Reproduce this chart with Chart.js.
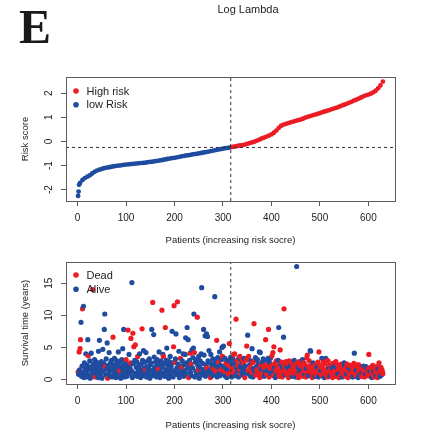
<!DOCTYPE html>
<html>
<head>
<meta charset="utf-8">
<script src="https://cdn.jsdelivr.net/npm/chart.js@4.4.0/dist/chart.umd.min.js"></script>
<style>
  body { margin: 0; background: #fff; width: 433px; height: 431px; position: relative; overflow: hidden; }
  canvas { position: absolute; left: 0; }
  #letter { position: absolute; left: 19px; top: 3px; font: bold 48px "Liberation Serif", "DejaVu Serif", serif; line-height: 48px; color: #1a1a1a; }
  #title { position: absolute; left: 148px; width: 200px; top: 4px; text-align: center; font: 11px "Liberation Sans", Arial, sans-serif; line-height: 11px; color: #222; }
</style>
</head>
<body>
<canvas id="risk" width="433" height="250" style="top:0"></canvas>
<canvas id="surv" width="433" height="181" style="top:250px"></canvas>
<div id="letter">E</div>
<div id="title">Log Lambda</div>
<script>
const RED = '#ec1c24';
const BLUE = '#1f4c9e';

// x axis (patients) shared by both panels
const patientTicks = [0, 100, 200, 300, 400, 500, 600];
const patientRange = [-24, 655];
const cutPatient = 316;

// top panel: risk score, sorted (read every 5th patient)
const riskTicks = [-2, -1, 0, 1, 2];
const riskRange = [-2.47, 2.67];
const cutScore = -0.25;
const riskPatient = [1, 2, 3,
  5, 10, 15, 20, 25, 30, 35, 40, 45, 50,
  55, 60, 65, 70, 75, 80, 85, 90, 95, 100,
  105, 110, 115, 120, 125, 130, 135, 140, 145, 150,
  155, 160, 165, 170, 175, 180, 185, 190, 195, 200,
  205, 210, 215, 220, 225, 230, 235, 240, 245, 250,
  255, 260, 265, 270, 275, 280, 285, 290, 295, 300,
  305, 310, 315, 320, 325, 330, 335, 340, 345, 350,
  355, 360, 365, 370, 375, 380, 385, 390, 395, 400,
  405, 410, 415, 420, 425, 430, 435, 440, 445, 450,
  455, 460, 465, 470, 475, 480, 485, 490, 495, 500,
  505, 510, 515, 520, 525, 530, 535, 540, 545, 550,
  555, 560, 565, 570, 575, 580, 585, 590, 595, 600,
  605, 610, 615, 620, 625, 630];
const riskScore = [-2.26, -2.08, -1.80,
  -1.72, -1.60, -1.52, -1.46, -1.41, -1.33, -1.26, -1.21, -1.17, -1.14,
  -1.11, -1.09, -1.07, -1.05, -1.03, -1.01, -1.00, -0.99, -0.97, -0.96,
  -0.95, -0.94, -0.93, -0.92, -0.91, -0.90, -0.89, -0.88, -0.86, -0.85,
  -0.84, -0.82, -0.81, -0.79, -0.77, -0.75, -0.73, -0.71, -0.69, -0.68,
  -0.66, -0.64, -0.62, -0.60, -0.58, -0.57, -0.55, -0.53, -0.52, -0.50,
  -0.48, -0.46, -0.44, -0.42, -0.40, -0.38, -0.36, -0.34, -0.32, -0.30,
  -0.28, -0.27, -0.25, -0.23, -0.21, -0.19, -0.17, -0.15, -0.13, -0.10,
  -0.07, -0.04, -0.01, 0.03, 0.07, 0.12, 0.16, 0.20, 0.24, 0.29,
  0.36, 0.45, 0.56, 0.65, 0.70, 0.73, 0.76, 0.79, 0.82, 0.85,
  0.88, 0.90, 0.94, 0.99, 1.02, 1.05, 1.08, 1.11, 1.14, 1.17,
  1.21, 1.24, 1.27, 1.30, 1.34, 1.37, 1.40, 1.44, 1.48, 1.52,
  1.56, 1.60, 1.64, 1.69, 1.73, 1.77, 1.82, 1.87, 1.91, 1.94,
  1.98, 2.03, 2.10, 2.20, 2.32, 2.48];

// bottom panel: survival time (years) per patient 1..630, and status (1 = dead)
const survTicks = [0, 5, 10, 15];
const survRange = [-0.7, 18.3];
const survTime = [
  1.2,0.8,4.3,1.5,4.8,6.2,8.9,0.5,2.1,11.0,
  1.1,11.4,0.3,2.6,1.8,0.9,4.0,0.4,1.3,2.2,
  6.2,3.7,0.7,1.6,2.9,0.2,1.9,4.1,0.6,1.2,
  14.0,2.4,0.9,1.5,3.1,0.4,2.0,1.1,2.7,0.8,
  1.7,0.3,4.4,1.0,6.1,2.3,0.6,1.4,2.8,0.2,
  1.9,4.7,1.2,2.5,7.8,10.2,2.0,0.7,3.2,1.6,
  5.7,0.2,2.2,0.9,4.2,1.3,0.5,2.6,1.8,3.0,
  0.4,1.5,6.6,2.1,0.8,3.3,1.0,2.4,0.3,1.7,
  2.9,0.6,1.2,4.3,2.0,0.9,1.4,2.7,0.2,1.9,
  3.1,0.7,4.8,1.3,7.8,2.3,0.4,1.8,2.9,3.1,
  1.1,0.5,2.2,7.7,1.6,3.9,0.9,2.0,2.6,6.4,
  1.4,15.1,0.3,7.2,2.5,5.1,1.0,3.0,5.4,0.7,
  1.9,2.8,0.5,3.6,1.3,2.2,0.8,4.0,1.6,0.3,
  2.4,1.1,7.9,3.0,0.6,4.5,1.8,2.7,0.9,1.5,
  4.2,0.4,2.0,1.2,2.9,0.7,1.7,3.2,0.2,2.3,
  1.0,2.6,7.8,1.4,12.0,0.6,7.0,3.5,1.9,0.9,
  2.7,1.3,0.4,3.1,2.1,0.8,1.6,4.3,2.4,0.3,
  1.2,2.9,0.7,10.8,1.9,3.9,3.6,1.0,2.5,0.5,
  8.1,1.5,3.0,4.9,0.9,2.2,1.3,0.2,2.8,1.7,
  3.6,0.6,2.0,1.1,7.5,2.6,0.4,5.1,11.5,1.4,
  2.7,3.2,7.1,0.8,1.8,12.1,2.4,1.0,4.4,0.3,
  1.6,3.3,2.1,0.7,1.9,2.9,1.2,4.0,0.5,2.3,
  1.4,3.9,6.5,0.9,2.6,8.1,1.7,6.2,0.3,2.0,
  3.0,4.1,1.1,2.4,0.6,4.6,1.8,3.4,4.9,10.2,
  4.2,0.4,2.7,1.3,3.1,0.8,9.7,2.2,1.5,3.6,
  0.2,1.9,2.9,1.0,4.0,14.3,0.7,2.5,1.6,7.8,
  3.8,1.2,6.8,0.5,2.3,7.1,1.8,6.7,2.9,0.9,
  4.5,1.4,2.6,0.3,3.9,1.1,2.0,0.6,3.2,1.7,
  2.4,0.8,12.9,3.0,1.3,2.1,6.1,0.4,3.4,1.9,
  2.7,1.0,4.3,0.6,2.2,1.5,3.1,5.0,3.6,0.9,
  5.2,2.0,1.2,3.3,0.5,2.6,1.7,0.3,3.0,2.3,
  1.4,0.8,5.6,2.9,1.1,3.5,2.1,0.4,1.6,3.2,
  2.4,3.9,1.0,4.0,2.7,0.6,9.4,1.8,3.0,1.3,
  2.2,0.4,3.4,1.5,3.6,2.0,0.9,2.8,1.2,3.1,
  0.7,2.5,1.6,3.3,0.3,2.1,1.0,3.0,5.2,3.2,
  6.9,1.4,3.6,0.8,2.3,1.9,0.5,2.9,1.1,4.8,
  2.6,0.4,1.7,8.7,2.9,1.2,3.4,0.7,2.0,1.5,
  3.1,0.9,2.4,1.3,4.3,0.3,4.2,2.2,1.6,0.6,
  2.7,1.0,3.2,1.9,0.5,2.3,1.2,6.2,3.0,0.8,
  2.0,1.4,3.3,7.8,0.4,2.6,1.7,3.3,0.9,2.2,
  3.7,1.1,4.2,0.6,5.1,1.8,2.5,0.3,1.4,2.9,
  0.8,2.1,1.2,3.0,8.1,0.5,1.6,4.6,2.4,1.0,
  2.7,0.4,1.9,1.3,6.6,11.0,2.2,0.7,1.5,2.8,
  0.9,2.0,1.2,2.5,0.3,1.7,2.9,0.6,1.4,2.2,
  1.0,2.7,0.5,1.8,2.3,0.8,3.0,1.3,2.0,0.4,
  1.6,17.6,2.5,0.9,1.9,0.3,2.8,1.2,2.1,0.7,
  1.5,2.4,1.0,3.1,0.5,1.8,2.6,0.8,1.3,2.2,
  0.4,1.7,3.4,3.8,1.1,2.0,0.6,2.9,1.4,4.5,
  4.4,1.0,2.3,0.3,1.7,2.6,0.8,1.5,2.1,0.5,
  1.2,2.4,0.7,1.9,1.0,2.7,0.4,4.3,1.6,2.2,
  0.9,1.4,2.0,3.3,0.6,1.7,2.8,1.1,0.3,2.4,
  1.3,3.3,0.8,2.9,1.6,0.4,2.9,1.9,1.0,2.2,
  0.6,1.5,2.1,0.9,1.8,0.3,2.5,1.2,0.7,2.0,
  1.4,0.5,2.8,1.9,1.1,2.3,0.8,1.6,0.3,2.1,
  1.0,1.7,0.6,2.4,1.3,0.4,2.0,1.5,0.8,2.6,
  2.2,1.1,0.5,1.8,0.9,2.4,1.4,0.3,1.9,2.2,
  1.0,0.6,2.2,1.5,0.8,2.0,1.2,0.4,1.7,2.5,
  4.1,1.1,0.7,1.9,1.4,0.5,2.3,1.0,0.3,2.3,
  1.6,0.8,1.3,2.0,1.8,0.5,1.1,1.6,0.7,2.1,
  1.2,0.4,1.8,0.9,2.0,1.4,1.8,0.6,1.1,1.7,
  3.9,0.8,1.3,0.5,1.9,1.0,0.3,1.5,2.2,0.7,
  1.2,0.4,1.8,0.9,1.4,0.6,2.0,1.1,0.3,1.6,
  0.8,2.6,1.3,0.5,1.0,1.9,0.7,1.5,1.2,0.9
];
const status = [
  1,0,1,0,1,1,0,0,0,1,
  0,0,0,0,0,0,0,0,0,0,
  0,1,0,0,0,0,0,0,0,0,
  1,0,0,0,0,1,0,0,0,0,
  0,0,0,0,0,0,0,0,0,0,
  0,0,0,0,0,0,1,0,0,0,
  0,1,0,0,0,0,0,0,0,0,
  0,0,1,0,0,0,0,0,0,0,
  0,0,0,0,0,0,1,0,0,0,
  0,0,0,0,0,0,0,0,0,1,
  0,0,0,1,0,0,0,0,1,1,
  0,0,0,1,0,1,0,0,1,0,
  0,0,0,1,0,0,0,0,0,0,
  0,0,1,0,0,0,0,0,0,1,
  0,0,0,0,0,0,0,0,0,0,
  0,0,0,0,1,0,0,0,0,0,
  0,0,0,0,0,0,1,0,0,0,
  0,0,0,1,0,0,1,0,0,0,
  1,0,0,0,0,0,0,0,0,0,
  0,0,0,0,0,0,0,1,1,0,
  1,0,0,0,0,1,0,0,0,0,
  0,1,0,0,1,0,0,0,0,0,
  0,0,0,0,0,0,0,0,1,0,
  0,1,0,1,0,0,0,0,0,0,
  1,0,0,0,0,0,1,0,1,0,
  0,0,0,0,0,0,0,0,0,0,
  0,0,0,0,0,0,1,0,0,0,
  0,0,0,1,0,0,0,0,0,1,
  0,0,0,0,1,0,1,0,0,0,
  1,0,0,0,0,1,0,0,1,0,
  0,0,1,0,0,1,0,0,0,1,
  0,1,1,0,1,0,1,0,1,0,
  0,1,1,1,0,0,1,0,1,0,
  1,0,0,1,1,0,1,0,0,1,
  0,1,0,0,1,0,0,1,1,1,
  0,1,1,0,0,1,0,0,1,0,
  1,0,0,1,1,0,0,1,0,1,
  0,1,0,1,0,1,0,1,0,1,
  0,1,0,1,0,1,0,1,0,1,
  1,0,0,1,1,0,1,0,0,1,
  1,0,1,1,1,0,1,0,1,1,
  0,1,1,0,0,1,1,1,0,1,
  1,1,0,1,0,1,1,0,1,1,
  1,0,1,1,1,0,1,1,1,0,
  1,1,0,1,1,1,0,1,1,0,
  1,0,1,1,0,1,1,0,1,1,
  0,1,1,0,1,1,1,0,1,1,
  1,0,1,1,1,1,0,1,1,0,
  0,1,1,1,1,0,1,1,1,0,
  1,1,1,0,1,1,0,1,1,1,
  1,0,1,0,1,1,1,1,0,1,
  1,0,1,1,1,1,1,0,1,1,
  0,1,1,1,0,1,1,1,1,0,
  1,1,1,0,1,1,0,1,1,1,
  0,1,1,1,1,0,1,1,1,0,
  0,1,1,1,0,1,1,1,0,1,
  1,1,1,0,1,1,1,0,1,1,
  0,1,1,1,0,1,1,1,0,1,
  1,0,1,1,1,1,0,1,1,0,
  1,1,1,0,0,1,0,1,1,1,
  1,1,0,1,1,1,0,1,1,1,
  0,1,1,1,1,0,1,1,1,0,
  1,1,1,0,1,1,0,1,1,1
];

const FONT = '"Liberation Sans", Arial, sans-serif';

// R style extras: box, rotated y labels, legend
function rDecor(yTicks, legendItems, legendY) {
  return {
    id: 'rDecor',
    afterDraw(chart) {
      const { ctx, chartArea: a, scales } = chart;
      ctx.save();
      ctx.strokeStyle = '#5c5c5c';
      ctx.lineWidth = 1;
      ctx.strokeRect(Math.round(a.left) + 0.5, Math.round(a.top) + 0.5,
        Math.round(a.right - a.left), Math.round(a.bottom - a.top));

      ctx.fillStyle = '#222';
      ctx.font = '10px ' + FONT;
      ctx.textAlign = 'center';
      ctx.textBaseline = 'middle';
      yTicks.forEach(v => {
        const y = scales.y.getPixelForValue(v);
        ctx.save();
        ctx.translate(49.5, y);
        ctx.rotate(-Math.PI / 2);
        ctx.fillText(String(v), 0, 0);
        ctx.restore();
      });

      ctx.font = '11px ' + FONT;
      ctx.textAlign = 'left';
      legendItems.forEach((item, i) => {
        ctx.fillStyle = item[1];
        ctx.beginPath();
        ctx.arc(76, legendY[i], 2.8, 0, Math.PI * 2);
        ctx.fill();
        ctx.fillStyle = '#222';
        ctx.fillText(item[0], 86.5, legendY[i] + 0.5);
      });
      ctx.restore();
    }
  };
}

function rOptions(yRange, yTicks, yTitle, canvasH, boxTop, boxBottom, xTitlePad) {
  return {
    responsive: false,
    animation: false,
    devicePixelRatio: 1,
    layout: { padding: { left: 0, right: 38, top: boxTop, bottom: 0 } },
    plugins: { legend: { display: false }, tooltip: { enabled: false } },
    scales: {
      x: {
        type: 'linear', min: patientRange[0], max: patientRange[1],
        afterBuildTicks: s => { s.ticks = patientTicks.map(v => ({ value: v })); },
        afterFit: s => { s.height = canvasH - boxBottom; },
        grid: { drawOnChartArea: false, drawTicks: true, tickLength: 5, color: '#5c5c5c' },
        border: { display: false },
        ticks: { color: '#222', font: { family: FONT, size: 10 }, padding: 6, maxRotation: 0, autoSkip: false },
        title: { display: true, text: 'Patients (increasing risk socre)', color: '#222',
          font: { family: FONT, size: 9.5 }, padding: { top: 0, bottom: xTitlePad } }
      },
      y: {
        type: 'linear', min: yRange[0], max: yRange[1],
        afterBuildTicks: s => { s.ticks = yTicks.map(v => ({ value: v })); },
        afterFit: s => { s.width = 66; },
        grid: { drawOnChartArea: false, drawTicks: true, tickLength: 5, color: '#5c5c5c' },
        border: { display: false },
        ticks: { color: 'rgba(0,0,0,0)', font: { family: FONT, size: 10 } },
        title: { display: true, text: yTitle, color: '#222',
          font: { family: FONT, size: 9.5 }, padding: { top: 20, bottom: 0 } }
      }
    }
  };
}

function dashed(points) {
  return { type: 'line', data: points, borderColor: '#333', borderWidth: 1, borderDash: [3, 3],
    pointRadius: 0, fill: false, tension: 0, order: 0 };
}

new Chart(document.getElementById('risk'), {
  type: 'scatter',
  data: {
    datasets: [
      dashed([{ x: cutPatient, y: riskRange[0] }, { x: cutPatient, y: riskRange[1] }]),
      dashed([{ x: patientRange[0], y: cutScore }, { x: patientRange[1], y: cutScore }]),
      {
        data: riskPatient.map((p, i) => ({ x: p, y: riskScore[i] })),
        pointRadius: 2.4,
        pointBorderWidth: 0,
        pointBackgroundColor: riskPatient.map(p => p > cutPatient ? RED : BLUE),
        order: 1
      }
    ]
  },
  options: rOptions(riskRange, riskTicks, 'Risk score', 250, 77, 201, 3.6),
  plugins: [rDecor(riskTicks, [['High risk', RED], ['low Risk', BLUE]], [91, 104.7])]
});

new Chart(document.getElementById('surv'), {
  type: 'scatter',
  data: {
    datasets: [
      dashed([{ x: cutPatient, y: survRange[0] }, { x: cutPatient, y: survRange[1] }]),
      {
        data: survTime.map((t, i) => ({ x: i + 1, y: t })),
        pointRadius: 2.6,
        pointBorderWidth: 0,
        pointBackgroundColor: status.map(s => s === 1 ? RED : BLUE),
        order: 1
      }
    ]
  },
  options: rOptions(survRange, survTicks, 'Survival time (years)', 181, 12, 134, 0),
  plugins: [rDecor(survTicks, [['Dead', RED], ['Alive', BLUE]], [25, 39.3])]
});
</script>
</body>
</html>
